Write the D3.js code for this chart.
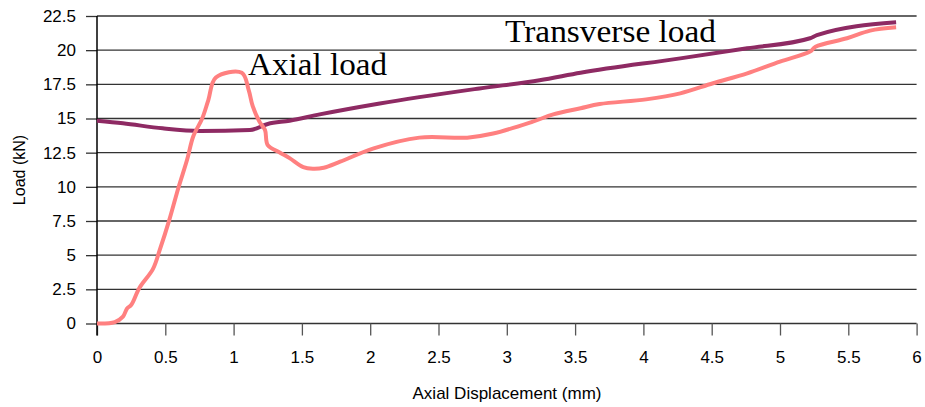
<!DOCTYPE html>
<html>
<head>
<meta charset="utf-8">
<script src="https://cdnjs.cloudflare.com/ajax/libs/d3/7.8.5/d3.min.js"></script>
<style>
  body { margin: 0; background: #fff; }
  .tick text { font-family: "Liberation Sans", Arial, sans-serif; font-size: 17px; fill: #000; }
</style>
</head>
<body>
<div id="chart"></div>
<script>
// axial load curve (x = displacement mm, y = load kN)
var axialX = [0, 0.13, 0.19, 0.22, 0.25, 0.31, 0.41, 0.46, 0.53, 0.595, 0.66, 0.705, 0.77, 0.815, 0.87, 1.06, 1.11, 1.14, 1.19, 1.23, 1.25, 1.34, 1.41, 1.51, 1.58, 1.66, 1.78, 2.02, 2.36, 2.71, 2.90, 3.19, 3.34, 3.54, 3.68, 4.02, 4.27, 4.51, 4.76, 5.0, 5.22, 5.26, 5.49, 5.66, 5.85];
var axialY = [0, 0.1, 0.5, 1.1, 1.35, 2.6, 4.0, 5.4, 7.6, 9.9, 12.0, 13.7, 15.0, 16.35, 18.0, 18.35, 17.1, 15.9, 14.75, 14.15, 13.05, 12.5, 12.1, 11.45, 11.33, 11.4, 11.84, 12.8, 13.6, 13.6, 13.9, 14.77, 15.3, 15.75, 16.06, 16.4, 16.84, 17.58, 18.3, 19.16, 19.9, 20.25, 20.87, 21.43, 21.67];

// transverse load curve
var transX = [0, 0.19, 0.48, 0.755, 1.12, 1.25, 1.41, 1.63, 2.07, 2.80, 3.24, 3.54, 4.27, 4.76, 5.22, 5.27, 5.85];
var transY = [14.84, 14.65, 14.28, 14.09, 14.16, 14.6, 14.84, 15.3, 16.1, 17.2, 17.8, 18.35, 19.4, 20.14, 20.87, 21.1, 22.04];

var xTicks = [0, 0.5, 1, 1.5, 2, 2.5, 3, 3.5, 4, 4.5, 5, 5.5, 6];
var yTicks = [0, 2.5, 5, 7.5, 10, 12.5, 15, 17.5, 20, 22.5];

var svgWidth = 925, svgHeight = 407;
var margin = { top: 16, right: 8, bottom: 83.5, left: 97 };
var width = svgWidth - margin.left - margin.right;
var height = svgHeight - margin.top - margin.bottom;

var svg = d3.select("#chart").append("svg")
  .attr("width", svgWidth)
  .attr("height", svgHeight);

var chartGroup = svg.append("g")
  .attr("transform", `translate(${margin.left}, ${margin.top})`);

var xScale = d3.scaleLinear().domain([0, 6]).range([0, 819.6]);
var yScale = d3.scaleLinear().domain([0, 22.5]).range([height, 0]);

// horizontal grid lines
chartGroup.append("g")
  .selectAll("line")
  .data(yTicks)
  .enter()
  .append("line")
  .attr("x1", 0)
  .attr("x2", xScale(6))
  .attr("y1", d => yScale(d))
  .attr("y2", d => yScale(d))
  .attr("stroke", "#333")
  .attr("stroke-width", 1.3);

// axes
var yAxis = d3.axisLeft(yScale).tickValues(yTicks).tickSize(11).tickPadding(10)
  .tickFormat(d => String(d));
var xAxis = d3.axisBottom(xScale).tickValues(xTicks).tickSize(12).tickPadding(15)
  .tickFormat(d => String(d));

var gy = chartGroup.append("g").call(yAxis);
gy.select(".domain").remove();
gy.selectAll(".tick line").attr("stroke", "#333").attr("stroke-width", 1.3);

var gx = chartGroup.append("g")
  .attr("transform", `translate(0, ${height})`)
  .call(xAxis);
gx.select(".domain").remove();
gx.selectAll(".tick line").attr("stroke", "#555").attr("stroke-width", 1.3);

// y axis line
chartGroup.append("line")
  .attr("x1", 0).attr("x2", 0)
  .attr("y1", yScale(22.5)).attr("y2", height + 12)
  .attr("stroke", "#000").attr("stroke-width", 1.5);

// lines
var line = d3.line()
  .x(d => xScale(d[0]))
  .y(d => yScale(d[1]))
  .curve(d3.curveMonotoneX);

var transData = transX.map((x, i) => [x, transY[i]]);
var axialData = axialX.map((x, i) => [x, axialY[i]]);

chartGroup.append("path")
  .datum(transData)
  .attr("d", line)
  .attr("fill", "none")
  .attr("stroke", "#8e2a63")
  .attr("stroke-width", 4)
  .attr("stroke-linejoin", "round");

chartGroup.append("path")
  .datum(axialData)
  .attr("d", d3.line().x(d => xScale(d[0])).y(d => yScale(d[1])).curve(d3.curveCatmullRom.alpha(0.5)))
  .attr("fill", "none")
  .attr("stroke", "#ff8080")
  .attr("stroke-width", 4)
  .attr("stroke-linejoin", "round");

// annotations
svg.append("text")
  .attr("x", 248).attr("y", 75)
  .attr("font-family", "'Liberation Serif', 'DejaVu Serif', serif")
  .attr("font-size", "31px")
  .attr("textLength", 139)
  .attr("lengthAdjust", "spacingAndGlyphs")
  .text("Axial load");

svg.append("text")
  .attr("x", 505).attr("y", 42)
  .attr("font-family", "'Liberation Serif', 'DejaVu Serif', serif")
  .attr("font-size", "31px")
  .attr("textLength", 211)
  .attr("lengthAdjust", "spacingAndGlyphs")
  .text("Transverse load");

// axis titles
svg.append("g")
  .attr("transform", `translate(25, 170)`)
  .append("text")
  .attr("text-anchor", "middle")
  .attr("transform", "rotate(-90)")
  .attr("font-family", "'Liberation Sans', Arial, sans-serif")
  .attr("font-size", "16px")
  .text("Load (kN)");

svg.append("text")
  .attr("x", 507).attr("y", 399)
  .attr("text-anchor", "middle")
  .attr("font-family", "'Liberation Sans', Arial, sans-serif")
  .attr("font-size", "17px")
  .text("Axial Displacement (mm)");
</script>
</body>
</html>
